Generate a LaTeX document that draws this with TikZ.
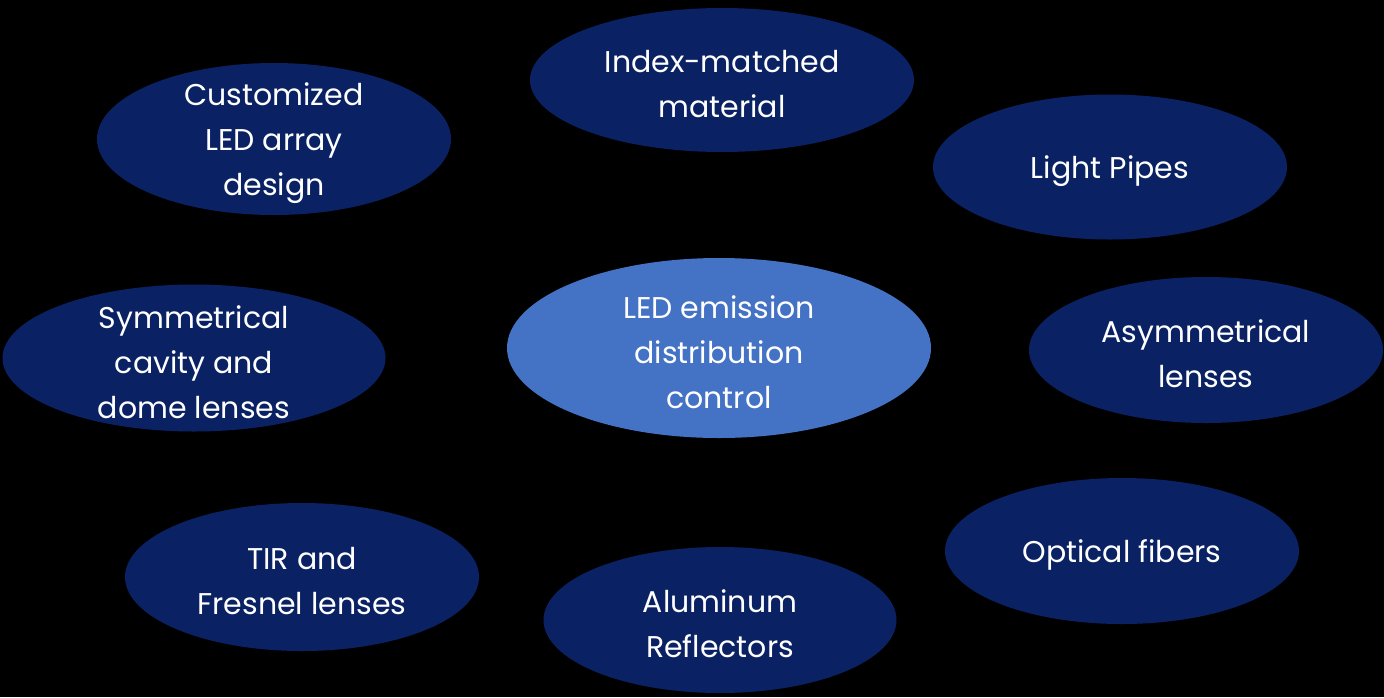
\documentclass[tikz,border=0pt]{standalone}
\usepackage{fontspec}
\setmainfont{Poppins}
\usetikzlibrary{shapes.geometric}
\definecolor{navy}{HTML}{0A2263}
\definecolor{midblue}{HTML}{4472C4}
\begin{document}
\begin{tikzpicture}[x=1pt,y=-1pt,
  blob/.style={ellipse,fill=navy,inner sep=0pt},
  hub/.style={ellipse,fill=midblue,inner sep=0pt},
  lbl/.style={text=white,align=center,yshift=-4pt,font=\fontsize{30}{45}\selectfont}]
\fill[black] (0,0) rectangle (1384,697);
\node[blob,minimum width=354,minimum height=152] (cust) at (274,139) {};
\node[blob,minimum width=384,minimum height=144] (index) at (722,80) {};
\node[blob,minimum width=354,minimum height=145] (pipes) at (1110,167) {};
\node[blob,minimum width=383,minimum height=147] (sym) at (194,358) {};
\node[hub,minimum width=424,minimum height=180] (ctrl) at (719,348) {};
\node[blob,minimum width=354,minimum height=146] (asym) at (1206,350) {};
\node[blob,minimum width=354,minimum height=148] (tir) at (302,577) {};
\node[blob,minimum width=353,minimum height=146] (alu) at (720,620) {};
\node[blob,minimum width=354,minimum height=146] (fib) at (1122,551) {};
% labels
\node[lbl] (custtxt) at (cust) {Customized\\LED array\\design};
\node[lbl] (indextxt) at (index) {Index-matched\\material};
\node[lbl] (pipestxt) at (pipes) {Light Pipes};
\node[lbl] (symtxt) at (sym) {Symmetrical\\cavity and\\dome lenses};
\node[lbl] (ctrltxt) at (ctrl) {LED emission\\distribution\\control};
\node[lbl] (asymtxt) at (asym) {Asymmetrical\\lenses};
\node[lbl] (tirtxt) at (tir) {TIR and\\Fresnel lenses};
\node[lbl] (alutxt) at (alu) {Aluminum\\Reflectors};
\node[lbl] (fibtxt) at (fib) {Optical fibers};
\end{tikzpicture}
\end{document}
